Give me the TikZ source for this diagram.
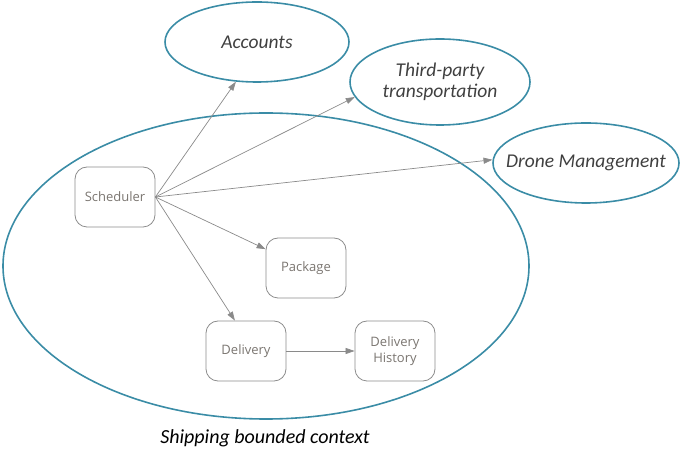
\documentclass[tikz,border=0pt]{standalone}
\usepackage{fontspec}
\setmainfont{Open Sans}
\newfontfamily\handfont{Carlito}
\usetikzlibrary{shapes.geometric,arrows.meta}
\definecolor{teal}{HTML}{3A8CA6}
\definecolor{boxline}{HTML}{8C8C8C}
\definecolor{boxtext}{HTML}{7A7570}
\definecolor{arrowgray}{HTML}{8A8A8A}
\begin{document}
\begin{tikzpicture}[x=1pt, y=-1pt,
  context/.style={ellipse, draw=teal, line width=1.6pt, inner sep=0pt},
  hand/.style={font=\handfont\itshape\fontsize{19.5}{21}\selectfont, text=black!75, align=center},
  svc/.style={rectangle, rounded corners=12pt, draw=boxline, line width=0.8pt, minimum width=80pt, minimum height=60pt, inner sep=0pt, align=center, text=boxtext, font=\fontsize{13}{16}\selectfont},
  link/.style={draw=arrowgray, line width=0.7pt, -{Triangle[length=9pt,width=6pt]}}]

\useasboundingbox (0,0) rectangle (681,462);

% bounded context
\node[context, minimum width=526pt, minimum height=306pt] (ship) at (266,266) {};
\node[hand, text=black, font=\handfont\itshape\fontsize{20}{22}\selectfont] (shiplabel) at (265,438) {Shipping bounded context};

% other contexts
\node[context, minimum width=184pt, minimum height=80pt, label={[hand]center:Accounts}] (acc) at (257,42) {};
\node[context, minimum width=180pt, minimum height=86pt, label={[hand]center:Third-party\\transportation}] (third) at (440,82) {};
\node[context, minimum width=186pt, minimum height=80pt, label={[hand]center:Drone Management}] (drone) at (586,163) {};

% services
\node[svc] (sched) at (115,197) {Scheduler};
\node[svc] (pkg) at (306,268) {Package};
\node[svc] (deliv) at (246,351) {Delivery};
\node[svc] (hist) at (395,351) {Delivery\\History};

\draw[link] (sched.east) -- (acc.242);
\draw[link] (sched.east) -- (third.190);
\draw[link] (sched.east) -- (drone.178);
\draw[link] (sched.east) -- (pkg.155);
\draw[link] (sched.east) -- (deliv.110);
\draw[link] (deliv.east) -- (hist.west);

\end{tikzpicture}
\end{document}
